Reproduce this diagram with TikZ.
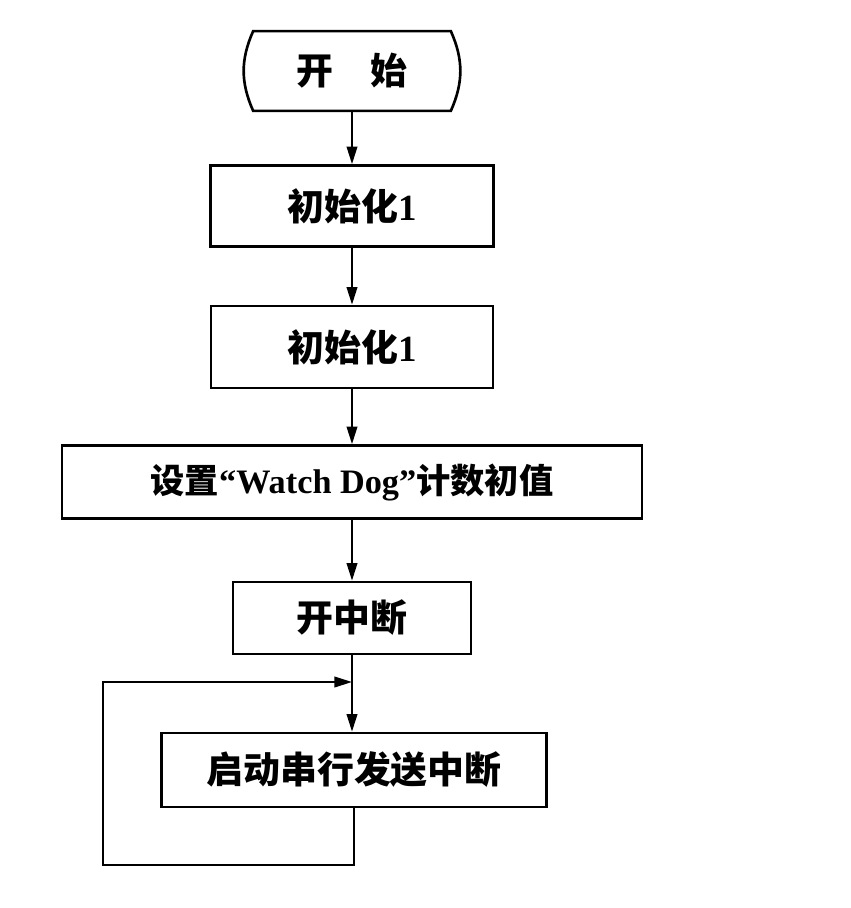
\documentclass[tikz,border=0pt]{standalone}
\usepackage{fontspec}
\setmainfont{Liberation Serif}
\newfontfamily\cjk{Noto Sans CJK SC}
\usetikzlibrary{arrows.meta}
\def\px{0.02cm}
\def\bigcjk{\fontsize{21}{21}\selectfont\bfseries\cjk}
\def\smallcjk{\fontsize{19.5}{19.5}\selectfont\bfseries\cjk}
\tikzset{
  procbox/.style = {draw, line width=1.5pt, inner sep=0pt, font=\bigcjk},
  flowarrow/.style = {-{Triangle[length=10pt,width=6pt]}, line width=1.2pt},
}

\begin{document}
\begin{tikzpicture}[x=\px, y=-\px]
  \useasboundingbox (0,0) rectangle (850,908);

  \node [inner sep=0pt, minimum width=197*\px, minimum height=79*\px, font=\bigcjk] (start) at (352,71) {开　始};
  \draw [line width=1.5pt] (start.north west) to[bend right=24] (start.south west)
    -- (start.south east) to[bend right=24] (start.north east) -- cycle;

  \node [procbox, minimum width=283*\px, minimum height=81*\px] (init1) at (352,206) {初始化{\rmfamily 1}};
  \node [procbox, minimum width=282*\px, minimum height=82*\px] (init2) at (352,347) {初始化{\rmfamily 1}};
  \node [procbox, minimum width=580*\px, minimum height=73*\px, font=\smallcjk] (wdog) at (352,482) {设置{\rmfamily “Watch Dog”}计数初值};
  \node [procbox, minimum width=238*\px, minimum height=72*\px] (inton) at (352,618) {开中断};
  \node [procbox, minimum width=385*\px, minimum height=74*\px] (serial) at (354,770) {启动串行发送中断};

  \coordinate (join) at (352,682);
  \coordinate (loopcorner) at (103,865);

  \draw [flowarrow] (start) -- (init1);
  \draw [flowarrow] (init1) -- (init2);
  \draw [flowarrow] (init2) -- (wdog);
  \draw [flowarrow] (wdog) -- (inton);
  \draw [flowarrow] (inton.south) -- (inton.south |- serial.north);
  \draw [flowarrow] (serial.south) -- (serial.south |- loopcorner) -- (loopcorner)
    -- (loopcorner |- join) -- (join);
\end{tikzpicture}
\end{document}
